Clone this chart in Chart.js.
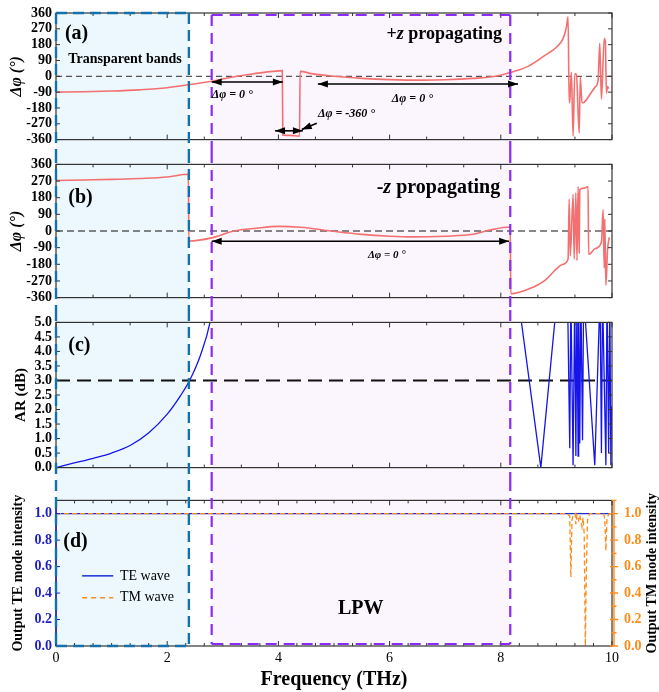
<!DOCTYPE html>
<html>
<head>
<meta charset="utf-8">
<title>Phase difference, axial ratio and output mode intensity</title>
<script src="https://cdn.jsdelivr.net/npm/chart.js@4.4.1/dist/chart.umd.min.js"></script>
<style>
  body { margin: 0; background: #fff; }
  #wrap { position: relative; width: 659px; height: 692px; }
  #wrap canvas { position: absolute; left: 0; }
</style>
</head>
<body>
<div id="wrap">
  <canvas id="panelA" width="659" height="152" style="top:0px"></canvas>
  <canvas id="panelB" width="659" height="158" style="top:152px"></canvas>
  <canvas id="panelC" width="659" height="170" style="top:310px"></canvas>
  <canvas id="panelD" width="659" height="212" style="top:480px"></canvas>
</div>
<script>
// ---- data ----
const freqTicks = [0, 2, 4, 6, 8, 10];
const phaseTicks = [-360, -270, -180, -90, 0, 90, 180, 270, 360];
const arTicks = [0, 0.5, 1, 1.5, 2, 2.5, 3, 3.5, 4, 4.5, 5];
const intensityTicks = [0, 0.2, 0.4, 0.6, 0.8, 1.0];

// frequency bands (THz)
const transparentBand = [0, 2.39];
const lpwBand = [2.8, 8.17];

// (a) +z propagating, phase difference (deg)
const freqA = [0, 0.5, 1.0, 1.5, 2.0, 2.4, 2.8, 3.0, 3.26, 3.5, 3.8, 4.0, 4.07, 4.08, 4.2, 4.38, 4.39, 4.6, 5.0, 5.5,
  6.0, 6.6, 7.0, 7.5, 7.9, 8.15, 8.5, 8.8, 9.0, 9.12, 9.18, 9.21, 9.23, 9.24, 9.27, 9.30, 9.33, 9.36, 9.41, 9.43,
  9.46, 9.48, 9.6, 9.7, 9.75, 9.78, 9.81, 9.86, 9.88, 9.90, 9.92, 9.94];
const phaseA = [-90, -88, -84, -77, -65, -47, -28, -15, 0, 12, 25, 31, 32, -333, -336, -340, 28, 15, 0, -12,
  -19, -22, -20, -12, 0, 20, 58, 120, 165, 214, 280, 338, -150, -140, 23, -341, 14, 10, -323, -5,
  -150, -150, -105, -60, -22, 187, -130, 214, 200, -95, -59, -70];

// (b) -z propagating, phase difference (deg)
const freqB = [0, 0.5, 1.0, 1.5, 2.0, 2.38, 2.39, 2.8, 3.2, 3.6, 4.0, 4.4, 4.95, 5.5, 6.0, 6.4, 7.0, 7.5, 7.8, 8.17,
  8.18, 8.5, 8.8, 9.0, 9.12, 9.21, 9.23, 9.25, 9.30, 9.32, 9.35, 9.37, 9.39, 9.41, 9.42, 9.5, 9.57, 9.58, 9.7, 9.81,
  9.84, 9.86, 9.87, 9.89, 9.92, 9.95];
const phaseB = [273, 276, 279, 284, 292, 307, -54, -37, 0, 15, 25, 20, 0, -18, -28, -32, -28, -18, 5, 22,
  -339, -314, -265, -205, -180, -152, 173, -135, 198, -152, 206, -160, 240, -118, 223, 232, 240, -127, -95, -60,
  115, -200, 65, -293, -102, -35];

// (c) axial ratio (dB): smooth low-frequency branch, then the spiky high-frequency part
const freqC1 = [0, 0.31, 0.67, 1.0, 1.34, 1.67, 2.0, 2.24, 2.4, 2.6, 2.77, 2.85];
const arC1 = [0, 0.15, 0.32, 0.5, 0.77, 1.2, 1.84, 2.48, 2.99, 3.88, 5.0, 6.0];
const freqC2 = [8.33, 8.72, 9.0, 9.1, 9.20, 9.24, 9.26, 9.30, 9.33, 9.35, 9.37, 9.39, 9.40, 9.42, 9.44, 9.47, 9.49,
  9.69, 9.785, 9.81, 9.83, 9.89, 9.91, 9.94, 9.96, 9.98, 9.99];
const arC2 = [5.6, 0.0, 5.6, null, 6, 0.67, 6, 0.08, 6, 0.4, 6, 0.4, 6, 0.83, 6, 0.94, 6,
  0.08, 6, 0.5, 6, 0.08, 6, 0.5, 6, 0.08, 2.1];

// (d) output mode intensity
const freqTE = [0, 10];
const teD = [1, 1];
const freqTM = [0, 9.2, 9.24, 9.26, 9.28, 9.30, 9.34, 9.35, 9.37, 9.40, 9.42, 9.46, 9.48, 9.50, 9.52, 9.54, 9.56, 9.60,
  9.85, 9.87, 9.89, 9.91, 9.95, 10];
const tmD = [1, 1, 0.98, 0.52, 0.95, 0.99, 1, 0.92, 0.99, 0.95, 0.99, 0.9, 0.97, 0.85, 0.0, 0.6, 0.95, 1,
  1, 0.96, 0.72, 0.97, 1, 1];

// ---- styling ----
const FONT = "'Liberation Serif', 'Times New Roman', serif";
Chart.defaults.font.family = FONT;
Chart.defaults.color = '#000';

const C = {
  phase: 'rgb(243,112,112)',
  ar: 'rgb(20,20,235)',
  te: 'rgb(25,45,215)',
  tm: 'rgb(255,140,25)',
  blueFill: 'rgb(236,248,253)',
  blueLine: 'rgb(22,112,170)',
  purpleFill: 'rgb(251,245,253)',
  purpleLine: 'rgb(138,43,250)',
  leftBlue: 'rgb(30,30,200)',
  frame: '#333'
};

const pts = (xs, ys) => xs.map((x, i) => ({ x: x, y: ys[i] }));
const fixedTicks = arr => s => { s.ticks = arr.map(v => ({ value: v })); };

// ---- drawing helpers (all through the chart scales) ----
function label(chart, text, xv, yv, font, align, color) {
  const ctx = chart.ctx;
  ctx.save();
  ctx.font = font + ' ' + FONT;
  ctx.fillStyle = color || '#000';
  ctx.textAlign = align || 'left';
  ctx.textBaseline = 'middle';
  ctx.fillText(text, chart.scales.x.getPixelForValue(xv), chart.scales.y.getPixelForValue(yv));
  ctx.restore();
}

function runs(chart, parts, xv, yv, size, align) {
  const ctx = chart.ctx;
  ctx.save();
  ctx.textBaseline = 'middle';
  ctx.textAlign = 'left';
  ctx.fillStyle = '#000';
  const widths = parts.map(p => { ctx.font = p[1] + ' ' + size + 'px ' + FONT; return ctx.measureText(p[0]).width; });
  const total = widths.reduce((s, w) => s + w, 0);
  let x = chart.scales.x.getPixelForValue(xv);
  if (align === 'right') x -= total;
  const y = chart.scales.y.getPixelForValue(yv);
  parts.forEach((p, i) => {
    ctx.font = p[1] + ' ' + size + 'px ' + FONT;
    ctx.fillText(p[0], x, y);
    x += widths[i];
  });
  ctx.restore();
}

function arrow(chart, x0v, y0v, x1v, y1v, both) {
  const ctx = chart.ctx, xs = chart.scales.x, ys = chart.scales.y;
  const x0 = xs.getPixelForValue(x0v), y0 = ys.getPixelForValue(y0v);
  const x1 = xs.getPixelForValue(x1v), y1 = ys.getPixelForValue(y1v);
  const ang = Math.atan2(y1 - y0, x1 - x0);
  const L = 10, W = 3.5;
  ctx.save();
  ctx.strokeStyle = '#000';
  ctx.fillStyle = '#000';
  ctx.lineWidth = 1.6;
  ctx.beginPath();
  ctx.moveTo(x0, y0);
  ctx.lineTo(x1, y1);
  ctx.stroke();
  const head = (x, y, a) => {
    ctx.beginPath();
    ctx.moveTo(x, y);
    ctx.lineTo(x - L * Math.cos(a) + W * Math.sin(a), y - L * Math.sin(a) - W * Math.cos(a));
    ctx.lineTo(x - L * Math.cos(a) - W * Math.sin(a), y - L * Math.sin(a) + W * Math.cos(a));
    ctx.closePath();
    ctx.fill();
  };
  head(x1, y1, ang);
  if (both) head(x0, y0, ang + Math.PI);
  ctx.restore();
}

const bands = [
  { range: transparentBand, fill: C.blueFill, line: C.blueLine, dash: [11, 6], width: 2.4, inset: 0 },
  { range: lpwBand, fill: C.purpleFill, line: C.purpleLine, dash: [11, 7], width: 2.2, inset: 2 }
];

function decor(opt) {
  return {
    id: 'decor',
    beforeDatasetsDraw(chart) {
      const ctx = chart.ctx, a = chart.chartArea, xs = chart.scales.x;
      ctx.save();
      bands.forEach(b => {
        const x0 = xs.getPixelForValue(b.range[0]), x1 = xs.getPixelForValue(b.range[1]);
        const top = opt.first ? a.top + b.inset : 0;
        const bottom = opt.last ? a.bottom - b.inset : chart.height;
        ctx.fillStyle = b.fill;
        ctx.fillRect(x0, top, x1 - x0, bottom - top);
      });
      if (opt.ref) {
        const y = chart.scales.y.getPixelForValue(opt.ref.value);
        ctx.strokeStyle = opt.ref.color;
        ctx.lineWidth = opt.ref.width;
        ctx.setLineDash(opt.ref.dash);
        ctx.beginPath();
        ctx.moveTo(a.left, y);
        ctx.lineTo(a.right, y);
        ctx.stroke();
      }
      ctx.restore();
    },
    afterDraw(chart) {
      const ctx = chart.ctx, a = chart.chartArea, xs = chart.scales.x, ys = chart.scales.y;
      ctx.save();
      // frame
      ctx.lineWidth = 1.2;
      ctx.strokeStyle = C.frame;
      ctx.strokeRect(a.left, a.top, a.right - a.left, a.bottom - a.top);
      // inward x ticks
      ctx.lineWidth = 1;
      ctx.beginPath();
      const n = Math.round((xs.max - xs.min) / opt.xStep);
      for (let i = 0; i <= n; i++) {
        const v = xs.min + i * opt.xStep;
        const X = xs.getPixelForValue(v);
        const len = Math.abs(v / 2 - Math.round(v / 2)) < 1e-6 ? 5 : 3;
        ctx.moveTo(X, a.bottom); ctx.lineTo(X, a.bottom - len);
        ctx.moveTo(X, a.top); ctx.lineTo(X, a.top + len);
      }
      ctx.stroke();
      // left / right ticks
      ctx.strokeStyle = opt.leftColor || C.frame;
      ctx.beginPath();
      ys.ticks.forEach(t => {
        const Y = ys.getPixelForValue(t.value);
        ctx.moveTo(a.left, Y); ctx.lineTo(a.left + 4, Y);
        if (!opt.rightColor) { ctx.moveTo(a.right, Y); ctx.lineTo(a.right - 4, Y); }
      });
      ctx.stroke();
      if (opt.leftColor) {
        ctx.lineWidth = 1.4;
        ctx.beginPath(); ctx.moveTo(a.left, a.top); ctx.lineTo(a.left, a.bottom); ctx.stroke();
      }
      if (opt.rightColor) {
        const y2 = chart.scales.y2;
        ctx.strokeStyle = opt.rightColor;
        ctx.lineWidth = 1.4;
        ctx.beginPath();
        ctx.moveTo(a.right + 2, a.top); ctx.lineTo(a.right + 2, a.bottom);
        for (let i = 0; i <= 11; i++) {
          const Y = y2.getPixelForValue(i / 10);
          const len = i % 2 === 0 ? 4 : 2.5;
          ctx.moveTo(a.right + 2 - len, Y); ctx.lineTo(a.right + 2 + len, Y);
        }
        ctx.stroke();
      }
      // band outlines (dashed rectangles running through all panels)
      bands.forEach(b => {
        const x0 = xs.getPixelForValue(b.range[0]), x1 = xs.getPixelForValue(b.range[1]);
        const top = opt.first ? a.top + b.inset : 0;
        const bottom = opt.last ? a.bottom - b.inset : chart.height;
        ctx.strokeStyle = b.line;
        ctx.lineWidth = b.width;
        ctx.setLineDash(b.dash);
        ctx.beginPath();
        ctx.moveTo(x0, top); ctx.lineTo(x0, bottom);
        ctx.moveTo(x1, top); ctx.lineTo(x1, bottom);
        if (opt.first) { ctx.moveTo(x0, top); ctx.lineTo(x1, top); }
        if (opt.last) { ctx.moveTo(x0, bottom); ctx.lineTo(x1, bottom); }
        ctx.stroke();
      });
      ctx.restore();
      if (opt.annotate) opt.annotate(chart);
    }
  };
}

function options(p) {
  const scales = {
    x: {
      type: 'linear', min: 0, max: 10,
      afterBuildTicks: fixedTicks(freqTicks),
      grid: { display: false, drawTicks: false },
      border: { display: false },
      ticks: { display: !!p.xLabels, autoSkip: false, font: { size: 14 }, padding: 4, color: '#000' },
      title: p.xLabels
        ? { display: true, text: 'Frequency (THz)', font: { size: 20, weight: 'bold' }, padding: { top: 0, bottom: 0 } }
        : { display: false },
      afterFit: s => { s.height = p.xHeight; }
    },
    y: {
      min: p.yMin, max: p.yMax,
      afterBuildTicks: fixedTicks(p.yTicks),
      grid: { display: false, drawTicks: false },
      border: { display: false },
      ticks: { autoSkip: false, font: { size: 14, weight: 'bold' }, padding: 4, color: p.leftColor || '#000', callback: p.fmt },
      title: { display: true, text: p.yTitle, font: p.yTitleFont, padding: { top: p.yTitlePad, bottom: 0 } },
      afterFit: s => { s.width = 56; }
    }
  };
  if (p.right) {
    scales.y2 = {
      position: 'right', min: 0, max: 1.1,
      afterBuildTicks: fixedTicks(intensityTicks),
      grid: { display: false, drawTicks: false },
      border: { display: false },
      ticks: { autoSkip: false, font: { size: 14, weight: 'bold' }, padding: 12, color: C.tm, callback: v => v.toFixed(1) },
      afterFit: s => { s.width = 47; }
    };
  }
  return {
    responsive: false,
    animation: false,
    devicePixelRatio: 1,
    events: [],
    layout: { padding: { top: p.padTop, right: p.right ? 0 : 47, bottom: 0, left: 0 } },
    plugins: { legend: { display: false }, tooltip: { enabled: false } },
    scales: scales
  };
}

const phaseTitleFont = { size: 16, weight: 'bold', style: 'italic' };
const smooth = { pointRadius: 0, cubicInterpolationMode: 'monotone' };
const straight = { pointRadius: 0, tension: 0 };

// (a)
new Chart(document.getElementById('panelA'), {
  type: 'line',
  data: { datasets: [Object.assign({ data: pts(freqA, phaseA), borderColor: C.phase, borderWidth: 1.6 }, smooth)] },
  options: options({ padTop: 13, xHeight: 7, yMin: -360, yMax: 360, yTicks: phaseTicks, fmt: v => String(v),
    yTitle: 'Δφ (°)', yTitleFont: phaseTitleFont, yTitlePad: 7 }),
  plugins: [decor({
    first: true, xStep: 2 / 3,
    ref: { value: 0, color: '#555', width: 1.3, dash: [6, 4] },
    annotate(chart) {
      label(chart, '(a)', 0.16, 242, 'bold 20px');
      label(chart, 'Transparent bands', 0.22, 94, 'bold 14px');
      runs(chart, [['+', 'bold'], ['z', 'italic bold'], [' propagating', 'bold']], 8.02, 236, 18, 'right');
      arrow(chart, 2.8, -32, 4.08, -32, true);
      label(chart, 'Δφ = 0 °', 2.8, -103, 'italic bold 12px');
      arrow(chart, 4.71, -44, 8.31, -44, true);
      label(chart, 'Δφ = 0 °', 6.04, -130, 'italic bold 12px');
      arrow(chart, 3.94, -310, 4.44, -310, true);
      label(chart, 'Δφ = -360 °', 4.71, -212, 'italic bold 12px');
      arrow(chart, 4.69, -267, 4.42, -303, false);
    }
  })]
});

// (b)
new Chart(document.getElementById('panelB'), {
  type: 'line',
  data: { datasets: [Object.assign({ data: pts(freqB, phaseB), borderColor: C.phase, borderWidth: 1.6 }, smooth)] },
  options: options({ padTop: 7, xHeight: 7, yMin: -360, yMax: 360, yTicks: phaseTicks, fmt: v => String(v),
    yTitle: 'Δφ (°)', yTitleFont: phaseTitleFont, yTitlePad: 7 }),
  plugins: [decor({
    xStep: 2 / 3,
    ref: { value: 0, color: '#111', width: 1, dash: [7, 4] },
    annotate(chart) {
      label(chart, '(b)', 0.22, 177, 'bold 20px');
      runs(chart, [['-', 'bold'], ['z', 'italic bold'], [' propagating', 'bold']], 7.99, 232, 20, 'right');
      arrow(chart, 2.8, -55, 8.15, -55, true);
      label(chart, 'Δφ = 0 °', 5.61, -128, 'italic bold 11px');
    }
  })]
});

// (c)
new Chart(document.getElementById('panelC'), {
  type: 'line',
  data: { datasets: [
    Object.assign({ data: pts(freqC1, arC1), borderColor: C.ar, borderWidth: 1.3 }, smooth),
    Object.assign({ data: pts(freqC2, arC2), borderColor: C.ar, borderWidth: 1.3 }, straight)
  ] },
  options: options({ padTop: 8, xHeight: 6, yMin: 0, yMax: 5, yTicks: arTicks, fmt: v => v.toFixed(1),
    yTitle: 'AR (dB)', yTitleFont: { size: 15, weight: 'bold' }, yTitlePad: 12 }),
  plugins: [decor({
    xStep: 2 / 3,
    ref: { value: 3, color: '#111', width: 2.2, dash: [14, 7] },
    annotate(chart) {
      label(chart, '(c)', 0.22, 4.2, 'bold 20px');
    }
  })]
});

// (d)
new Chart(document.getElementById('panelD'), {
  type: 'line',
  data: { datasets: [
    Object.assign({ label: 'TM wave', data: pts(freqTM, tmD), yAxisID: 'y2', borderColor: C.tm, borderWidth: 1.3,
      borderDash: [5, 3] }, straight),
    Object.assign({ label: 'TE wave', data: pts(freqTE, teD), borderColor: C.te, borderWidth: 1.3 }, straight)
  ] },
  options: options({ padTop: 20, xHeight: 46, xLabels: true, right: true, yMin: 0, yMax: 1.1, yTicks: intensityTicks,
    fmt: v => v.toFixed(1), leftColor: C.leftBlue,
    yTitle: 'Output TE mode intensity', yTitleFont: { size: 14, weight: 'bold' }, yTitlePad: 10 }),
  plugins: [decor({
    last: true, xStep: 1 / 3, leftColor: C.leftBlue, rightColor: C.tm,
    annotate(chart) {
      const ctx = chart.ctx, xs = chart.scales.x, ys = chart.scales.y, a = chart.chartArea;
      label(chart, '(d)', 0.13, 0.785, 'bold 20px');
      ctx.save();
      ctx.lineWidth = 1.5;
      ctx.strokeStyle = C.te;
      ctx.beginPath();
      ctx.moveTo(xs.getPixelForValue(0.47), ys.getPixelForValue(0.53));
      ctx.lineTo(xs.getPixelForValue(1.03), ys.getPixelForValue(0.53));
      ctx.stroke();
      ctx.strokeStyle = C.tm;
      ctx.setLineDash([5, 4]);
      ctx.beginPath();
      ctx.moveTo(xs.getPixelForValue(0.47), ys.getPixelForValue(0.365));
      ctx.lineTo(xs.getPixelForValue(1.03), ys.getPixelForValue(0.365));
      ctx.stroke();
      ctx.restore();
      label(chart, 'TE wave', 1.15, 0.53, '14px');
      label(chart, 'TM wave', 1.15, 0.365, '14px');
      label(chart, 'LPW', 5.07, 0.28, 'bold 20px');
      // right axis title, reading bottom to top
      ctx.save();
      ctx.translate(chart.width - 7, (a.top + a.bottom) / 2);
      ctx.rotate(-Math.PI / 2);
      ctx.font = 'bold 14px ' + FONT;
      ctx.fillStyle = '#000';
      ctx.textAlign = 'center';
      ctx.textBaseline = 'middle';
      ctx.fillText('Output TM mode intensity', 0, 0);
      ctx.restore();
    }
  })]
});
</script>
</body>
</html>
